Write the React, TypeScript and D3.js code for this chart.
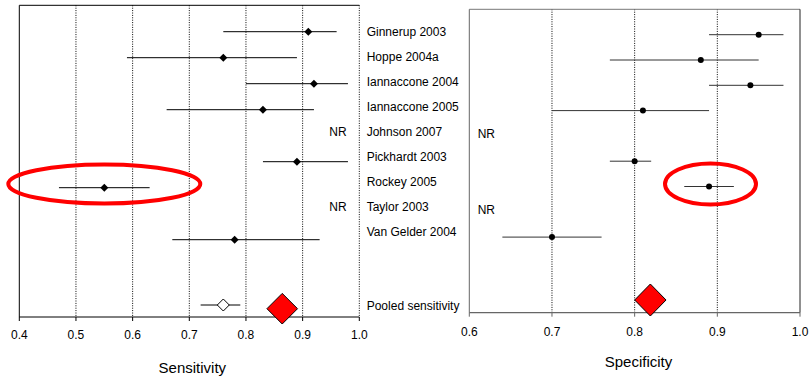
import React from "react";
import * as d3 from "d3";

const studies = ["Ginnerup 2003", "Hoppe 2004a", "Iannaccone 2004", "Iannaccone 2005", "Johnson 2007", "Pickhardt 2003", "Rockey 2005", "Taylor 2003", "Van Gelder 2004"];
const pooledLabel = "Pooled sensitivity";
// null = NR
const sensEst: (number | null)[] = [0.91, 0.76, 0.92, 0.83, null, 0.89, 0.55, null, 0.78];
const sensLo: (number | null)[] = [0.76, 0.59, 0.80, 0.66, null, 0.83, 0.47, null, 0.67];
const sensHi: (number | null)[] = [0.96, 0.89, 0.98, 0.92, null, 0.98, 0.63, null, 0.93];
const specEst: (number | null)[] = [0.95, 0.88, 0.94, 0.81, null, 0.80, 0.89, null, 0.70];
const specLo: (number | null)[] = [0.89, 0.77, 0.89, 0.70, null, 0.77, 0.86, null, 0.64];
const specHi: (number | null)[] = [0.98, 0.95, 0.98, 0.89, null, 0.82, 0.92, null, 0.76];
const sensPooledOpen = [0.76, 0.72, 0.79]; // est, lo, hi
const sensPooledRed = 0.864;
const specPooledRed = 0.819;
const sensTicks = [0.4, 0.5, 0.6, 0.7, 0.8, 0.9, 1.0];
const sensGrid = [0.5, 0.6, 0.7, 0.8, 0.9, 1.0];
const specTicks = [0.6, 0.7, 0.8, 0.9, 1.0];
const specGrid = [0.7, 0.8, 0.9];
const highlighted = "Rockey 2005";

const FONT = "Arial, 'Liberation Sans', sans-serif";

export default function App() {
  const xL = d3.scaleLinear().domain([0.4, 1.0]).range([19.3, 359.3]);
  const xR = d3.scaleLinear().domain([0.6, 1.0]).range([469.3, 800]);
  const yL = d3.scaleLinear().domain([0, 8]).range([31.7, 239.7]);
  const yR = d3.scaleLinear().domain([0, 8]).range([34.7, 237.1]);
  const yLab = d3.scaleLinear().domain([0, 8]).range([31.7, 231.7]);
  const topL = 5.3, botL = 317;
  const topR = 9.3, botR = 312.7;
  const hiIdx = studies.indexOf(highlighted);

  const diamond = (cx: number, cy: number, hw: number, hh: number) =>
    `M${cx - hw},${cy}L${cx},${cy - hh}L${cx + hw},${cy}L${cx},${cy + hh}Z`;

  return (
    <svg width={809} height={381} style={{ position: "absolute", left: 0, top: 0, background: "#fff" }} fontFamily={FONT}>
      <rect width={809} height={381} fill="#fff" />
      {/* LEFT PANEL */}
      {sensGrid.map((t) => (
        <line key={"gl" + t} x1={xL(t)} x2={xL(t)} y1={topL} y2={botL} stroke="#000" strokeWidth={1} strokeDasharray="1,1.4" />
      ))}
      <line x1={xL(0.4)} x2={xL(1.0)} y1={topL} y2={topL} stroke="#000" strokeWidth={1} />
      <line x1={xL(0.4)} x2={xL(0.4)} y1={topL} y2={botL} stroke="#000" strokeWidth={1} />
      <line x1={xL(0.4)} x2={xL(1.0)} y1={botL} y2={botL} stroke="#000" strokeWidth={1} />
      {sensTicks.map((t) => (
        <g key={"tl" + t}>
          <line x1={xL(t)} x2={xL(t)} y1={botL} y2={botL + 4} stroke="#000" />
          <text x={xL(t)} y={botL + 22} fontSize={12} textAnchor="middle" fill="#000">{t.toFixed(1)}</text>
        </g>
      ))}
      <text x={xL(0.7) + 3} y={373} fontSize={15} textAnchor="middle">Sensitivity</text>
      {studies.map((s, i) =>
        sensEst[i] == null ? (
          <text key={"nrL" + i} x={346.7} y={yLab(i) + 4.5} fontSize={12} textAnchor="end">NR</text>
        ) : (
          <g key={"sl" + i}>
            <line x1={xL(sensLo[i] as number)} x2={xL(sensHi[i] as number)} y1={yL(i)} y2={yL(i)} stroke="#000" strokeWidth={1} />
            <path d={diamond(xL(sensEst[i] as number), yL(i), 4, 4)} fill="#000" />
          </g>
        )
      )}
      <line x1={xL(sensPooledOpen[1])} x2={xL(sensPooledOpen[2])} y1={305} y2={305} stroke="#000" />
      <path d={diamond(xL(sensPooledOpen[0]), 305, 6, 6)} fill="#fff" stroke="#000" strokeWidth={1} />
      <path d={diamond(xL(sensPooledRed), 308.7, 15.3, 15.3)} fill="#ff0000" stroke="#000" strokeWidth={1} />
      <ellipse cx={xL(sensEst[hiIdx] as number)} cy={184} rx={96} ry={19.5} fill="none" stroke="#ff0000" strokeWidth={4} />

      {/* LABELS */}
      {studies.map((s, i) => (
        <text key={"lab" + i} x={366.7} y={yLab(i) + 4.3} fontSize={12}>{s}</text>
      ))}
      <text x={366.7} y={305.7 + 4.3} fontSize={12}>{pooledLabel}</text>

      {/* RIGHT PANEL */}
      {specGrid.map((t) => (
        <line key={"gr" + t} x1={xR(t)} x2={xR(t)} y1={topR} y2={botR} stroke="#000" strokeWidth={1} strokeDasharray="1,1.4" />
      ))}
      <line x1={xR(0.6)} x2={xR(1.0)} y1={topR} y2={topR} stroke="#777" strokeWidth={1} />
      <line x1={xR(0.6)} x2={xR(0.6)} y1={topR} y2={botR} stroke="#666" strokeWidth={1} />
      <line x1={xR(1.0)} x2={xR(1.0)} y1={topR} y2={botR} stroke="#222" strokeWidth={1} />
      <line x1={xR(0.6)} x2={xR(1.0)} y1={botR} y2={botR} stroke="#666" strokeWidth={1.2} />
      {specTicks.map((t) => (
        <g key={"tr" + t}>
          <line x1={xR(t)} x2={xR(t)} y1={botR} y2={botR + 4} stroke="#666" />
          <text x={xR(t)} y={botR + 23} fontSize={12} textAnchor="middle" fill="#000">{t.toFixed(1)}</text>
        </g>
      ))}
      <text x={638.5} y={367} fontSize={15} textAnchor="middle">Specificity</text>
      {studies.map((s, i) =>
        specEst[i] == null ? (
          <text key={"nrR" + i} x={477.7} y={yR(i) + 2.5} fontSize={12}>NR</text>
        ) : (
          <g key={"sr" + i}>
            <line x1={xR(specLo[i] as number)} x2={xR(specHi[i] as number)} y1={yR(i)} y2={yR(i)} stroke="#333" strokeWidth={1} />
            <circle cx={xR(specEst[i] as number)} cy={yR(i)} r={3} fill="#000" />
          </g>
        )
      )}
      <path d={diamond(xR(specPooledRed), 300, 15.7, 16)} fill="#ff0000" stroke="#000" strokeWidth={1} />
      <ellipse cx={710.5} cy={184} rx={45.5} ry={20.5} fill="none" stroke="#ff0000" strokeWidth={4} />
    </svg>
  );
}
